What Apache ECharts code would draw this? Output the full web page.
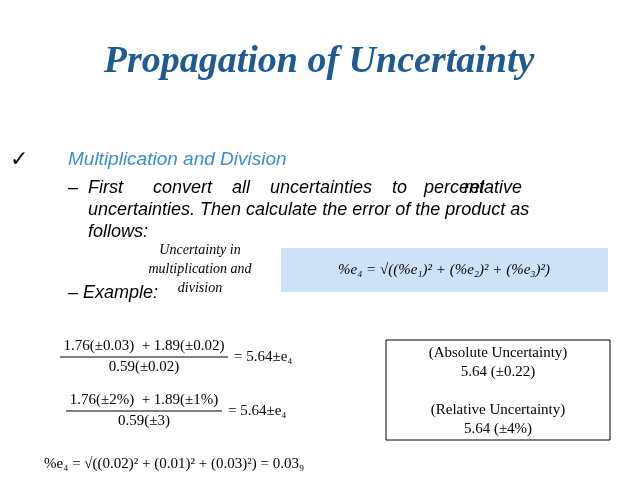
<!DOCTYPE html>
<html><head><meta charset="utf-8">
<script src="https://cdn.jsdelivr.net/npm/echarts@6/dist/echarts.min.js"></script>
<style>html,body{margin:0;padding:0;background:#fff}#c{width:638px;height:479px}</style>
</head><body><div id="c"></div>
<script>
const title = 'Propagation of Uncertainty';
const bullet = 'Multiplication and Division';
const dash1Words = ['–', 'First', 'convert', 'all', 'uncertainties', 'to', 'percent', 'relative'];
const dash1WordX = [68, 88, 153, 232, 270, 392, 424, 464];
const dash1 = ['uncertainties. Then calculate the error of the product as', 'follows:'];
const sideNote = ['Uncertainty in', 'multiplication and', 'division'];
const boxFormula = '%e₄ = √((%e₁)² + (%e₂)² + (%e₃)²)';
const ex1Num = '1.76(±0.03)  + 1.89(±0.02)';
const ex1Den = '0.59(±0.02)';
const ex2Num = '1.76(±2%)  + 1.89(±1%)';
const ex2Den = '0.59(±3)';
const rhs = '= 5.64±e₄';
const lastLine = '%e₄ = √((0.02)² + (0.01)² + (0.03)²) = 0.03₉';
const resultBox = ['(Absolute Uncertainty)', '5.64 (±0.22)', '', '(Relative Uncertainty)', '5.64 (±4%)'];

const serif = 'Liberation Serif';
const sans = 'Liberation Sans';
function T(x, y, text, o) {
  return Object.assign({type:'text', x, y, style:Object.assign({text, fill:'#000', font:'16px '+serif}, o||{})});
}
const g = [];
g.push(T(319, 62, title, {font:'italic bold 38px '+serif, fill:'#1f5a92', textAlign:'center', textVerticalAlign:'middle'}));
g.push(T(10, 160, '✓', {font:'bold 22px DejaVu Sans', textVerticalAlign:'middle'}));
g.push(T(68, 160, bullet, {font:'italic 19px '+sans, fill:'#3a8ed0', textVerticalAlign:'middle'}));
dash1Words.forEach((w,i)=>g.push(T(dash1WordX[i], 188, w, {font:'italic 18px '+sans, textVerticalAlign:'middle'})));
dash1.forEach((l,i)=>g.push(T(88, 210+i*22, l, {font:'italic 18px '+sans, textVerticalAlign:'middle'})));
sideNote.forEach((l,i)=>g.push(T(200, 250+i*19, l, {font:'italic 14px '+serif, textAlign:'center', textVerticalAlign:'middle'})));
g.push({type:'rect', shape:{x:281, y:248, width:327, height:44}, style:{fill:'#cde1f7'}});
g.push(T(444, 270, boxFormula, {font:'italic 15px '+serif, textAlign:'center', textVerticalAlign:'middle'}));
g.push(T(68, 293, '– Example:', {font:'italic 18px '+sans, textVerticalAlign:'middle'}));
function frac(cx, yLine, num, den, w) {
  g.push(T(cx, yLine-3, num, {textAlign:'center', textVerticalAlign:'bottom', font:'15px '+serif}));
  g.push({type:'line', shape:{x1:cx-w/2, y1:yLine, x2:cx+w/2, y2:yLine}, style:{stroke:'#000', lineWidth:1}});
  g.push(T(cx, yLine+3, den, {textAlign:'center', textVerticalAlign:'top', font:'15px '+serif}));
  g.push(T(cx+w/2+6, yLine, rhs, {textVerticalAlign:'middle', font:'15px '+serif}));
}
frac(144, 357, ex1Num, ex1Den, 168);
frac(144, 411, ex2Num, ex2Den, 156);
g.push(T(44, 464, lastLine, {textVerticalAlign:'middle', font:'15px '+serif}));
g.push({type:'rect', shape:{x:386, y:340, width:224, height:100}, style:{fill:'none', stroke:'#000', lineWidth:1}});
resultBox.forEach((l,i)=>g.push(T(498, 353+i*19, l, {textAlign:'center', textVerticalAlign:'middle', font:'15px '+serif})));
const chart = echarts.init(document.getElementById('c'));
chart.setOption({graphic:{elements:g}});
</script></body></html>
